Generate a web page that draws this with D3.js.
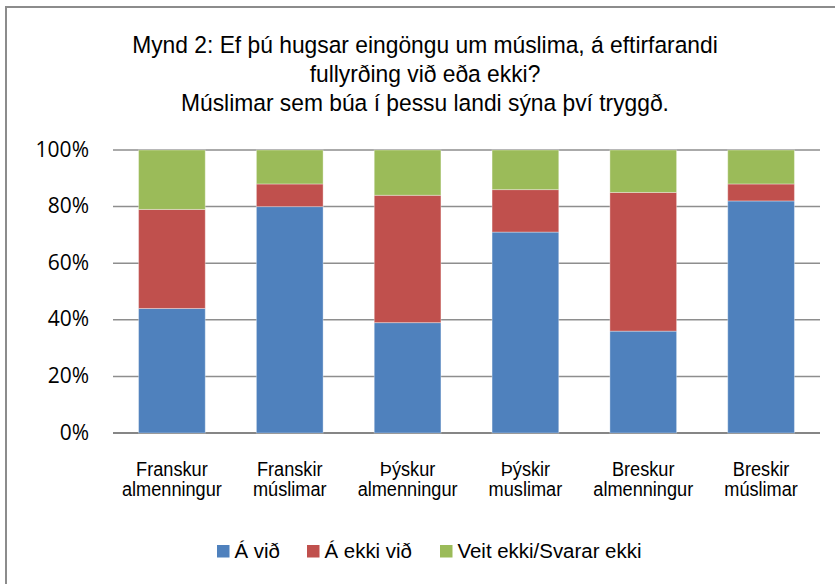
<!DOCTYPE html>
<html>
<head>
<meta charset="utf-8">
<script src="https://cdn.jsdelivr.net/npm/d3@7"></script>
<style>
  body { margin: 0; background: #fff; }
  text { font-family: "Liberation Sans", Arial, sans-serif; fill: #000; }
  .ylab { font-family: "Open Sans", "Noto Sans", sans-serif; }
</style>
</head>
<body>
<div id="chart"></div>
<script>
const titleLines = [
  "Mynd 2: Ef þú hugsar eingöngu um múslima, á eftirfarandi",
  "fullyrðing við eða ekki?",
  "Múslimar sem búa í þessu landi sýna því tryggð."
];
const categories = [
  ["Franskur", "almenningur"],
  ["Franskir", "múslimar"],
  ["Þýskur", "almenningur"],
  ["Þýskir", "muslimar"],
  ["Breskur", "almenningur"],
  ["Breskir", "múslimar"]
];
const seriesNames = ["Á við", "Á ekki við", "Veit ekki/Svarar ekki"];
const seriesColors = ["#4F81BD", "#C0504D", "#9BBB59"];
const aVid = [44, 80, 39, 71, 36, 82];
const aEkkiVid = [35, 8, 45, 15, 49, 6];
const veitEkki = [21, 12, 16, 14, 15, 12];
const yTicks = [0, 20, 40, 60, 80, 100];

const width = 835, height = 584;
const plot = {left: 113, right: 820, top: 150, bottom: 433};

// squeeze a text horizontally around x0 so the reference text gets width w
function narrow(sel, x0, s) {
  sel.attr("transform", "translate(" + x0 + ",0) scale(" + s + ",1) translate(" + (-x0) + ",0)");
}

const svg = d3.select("#chart").append("svg")
    .attr("width", width)
    .attr("height", height);

svg.append("rect")
    .attr("width", width).attr("height", height)
    .attr("fill", "#fff");

// outer frame, only top and left edges visible
svg.append("rect")
    .attr("x", 6).attr("y", 7)
    .attr("width", 900).attr("height", 700)
    .attr("fill", "none")
    .attr("stroke", "#8c8c8c")
    .attr("stroke-width", 2);

// title
const title = svg.append("text")
    .attr("text-anchor", "middle")
    .style("font-size", "24.5px");
title.selectAll("tspan")
  .data(titleLines)
  .join("tspan")
    .attr("x", 425)
    .attr("y", (d, i) => 52.7 + i * 29.2)
    .text(d => d);
const t0 = title.select("tspan").node().getComputedTextLength();
narrow(title, 425, 586 / t0);

const keys = ["aVid", "aEkkiVid", "veitEkki"];
const rows = categories.map((c, i) => ({
  cat: i, aVid: aVid[i], aEkkiVid: aEkkiVid[i], veitEkki: veitEkki[i]
}));
const stacked = d3.stack().keys(keys)(rows);

const x = d3.scaleBand()
    .domain(d3.range(categories.length))
    .range([plot.left, plot.right])
    .paddingInner(0.434)
    .paddingOuter(0.217);

const y = d3.scaleLinear()
    .domain([0, 100])
    .range([plot.bottom, plot.top]);

// grid lines
svg.append("g")
  .selectAll("line")
  .data(yTicks)
  .join("line")
    .attr("x1", plot.left).attr("x2", plot.right)
    .attr("y1", d => y(d)).attr("y2", d => y(d))
    .attr("stroke", d => d === 0 ? "#868686" : "#8e8e8e")
    .attr("stroke-width", d => d === 0 ? 2 : 1.5);

// y labels
svg.append("g")
  .selectAll("text")
  .data(yTicks)
  .join("text")
    .attr("class", "ylab")
    .attr("x", 89)
    .attr("y", d => y(d) + 6.5)
    .attr("text-anchor", "end")
    .style("font-size", "21px")
    .text(d => d + "%");

// bars
svg.append("g")
  .selectAll("g")
  .data(stacked)
  .join("g")
    .attr("fill", (d, i) => seriesColors[i])
  .selectAll("rect")
  .data(d => d)
  .join("rect")
    .attr("x", d => x(d.data.cat))
    .attr("width", x.bandwidth())
    .attr("y", d => y(d[1]))
    .attr("height", d => y(d[0]) - y(d[1]))
    .attr("stroke", "rgba(255,255,255,0.35)")
    .attr("stroke-width", 1);

// category labels
const catLabels = svg.append("g")
  .selectAll("text")
  .data(categories)
  .join("text")
    .attr("text-anchor", "middle")
    .style("font-size", "19.5px");
catLabels.selectAll("tspan")
  .data((d, i) => d.map(t => ({t, i})))
  .join("tspan")
    .attr("x", d => x(d.i) + x.bandwidth() / 2)
    .attr("y", (d, j) => 476 + j * 19.8)
    .text(d => d.t);
const a0 = catLabels.filter((d, i) => i === 0).selectAll("tspan").nodes()[1].getComputedTextLength();
catLabels.each(function(d, i) {
  narrow(d3.select(this), x(i) + x.bandwidth() / 2, 100 / a0);
});

// legend
const legendX = [217, 307, 440];
const legend = svg.append("g")
  .selectAll("g")
  .data(seriesNames)
  .join("g")
    .attr("transform", (d, i) => "translate(" + legendX[i] + ",545)");
legend.append("rect")
    .attr("width", 12.5).attr("height", 12.5)
    .attr("fill", (d, i) => seriesColors[i]);
const legendText = legend.append("text")
    .attr("x", 17.5)
    .attr("y", 12.7)
    .style("font-size", "19.5px")
    .text(d => d);
const l0 = legendText.nodes()[2].getComputedTextLength();
legendText.each(function() { narrow(d3.select(this), 17.5, 184 / l0); });
</script>
</body>
</html>
